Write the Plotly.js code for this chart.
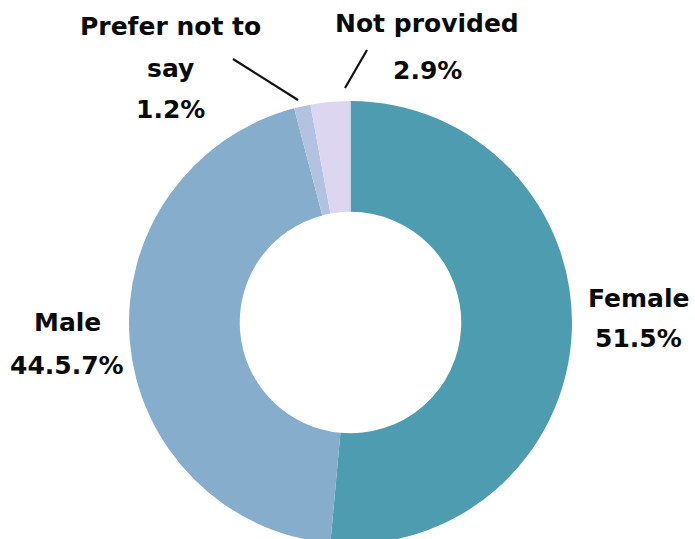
<!DOCTYPE html>
<html>
<head>
<meta charset="utf-8">
<script src="https://cdn.plot.ly/plotly-3.0.1.min.js"></script>
<style>
html, body { margin: 0; padding: 0; background: #fff; overflow: hidden; }
#chart { width: 695px; height: 544px; }
</style>
</head>
<body>
<div id="chart"></div>
<script>
// Data
const categories = ["Female", "Male", "Prefer not to say", "Not provided"];
const values = [51.5, 44.5, 1.2, 2.9];
const percentLabels = ["51.5%", "44.5.7%", "1.2%", "2.9%"];
const nameLines = [["Female"], ["Male"], ["Prefer not to", "say"], ["Not provided"]];
const sliceColors = ["#4E9CB0", "#87ADCD", "#B4C2E2", "#DDD6F0"];

const W = 695, H = 544;
const px = x => x / W;
const py = y => 1 - y / H;

// label line placements (pixel centers)
const labelPos = [
  { x: 638, ys: [298, 338] },
  { x: 67, ys: [322, 365] },
  { x: 170, ys: [26, 68, 110] },
  { x: 427, ys: [24, 70] }
];

const font = { family: "DejaVu Sans, Arial, sans-serif", size: 25, color: "#0a0a0a", weight: "bold" };
const annotations = [];
categories.forEach((c, i) => {
  const lines = nameLines[i].concat([percentLabels[i]]);
  lines.forEach((t, j) => {
    annotations.push({
      text: t, x: px(labelPos[i].x), y: py(labelPos[i].ys[j]),
      xref: "paper", yref: "paper", xanchor: "center", yanchor: "middle",
      showarrow: false, font: font
    });
  });
});

const leader = (x0, y0, x1, y1) => ({
  type: "line", xref: "paper", yref: "paper",
  x0: px(x0), y0: py(y0), x1: px(x1), y1: py(y1),
  line: { color: "#111111", width: 2.2 }
});

const data = [{
  type: "pie",
  labels: categories,
  values: values,
  hole: 0.5,
  sort: false,
  direction: "clockwise",
  rotation: 0,
  textinfo: "none",
  hoverinfo: "label+percent",
  marker: { colors: sliceColors, line: { width: 0 } },
  domain: { x: [129 / W, 572 / W], y: [0, 443 / H] },
  showlegend: false
}];

const layout = {
  width: W, height: H,
  margin: { l: 0, r: 0, t: 0, b: 0 },
  paper_bgcolor: "#ffffff",
  showlegend: false,
  annotations: annotations,
  shapes: [leader(233, 59, 298, 100), leader(367, 50, 345, 88)]
};

Plotly.newPlot("chart", data, layout, { displayModeBar: false, staticPlot: true });
</script>
</body>
</html>
